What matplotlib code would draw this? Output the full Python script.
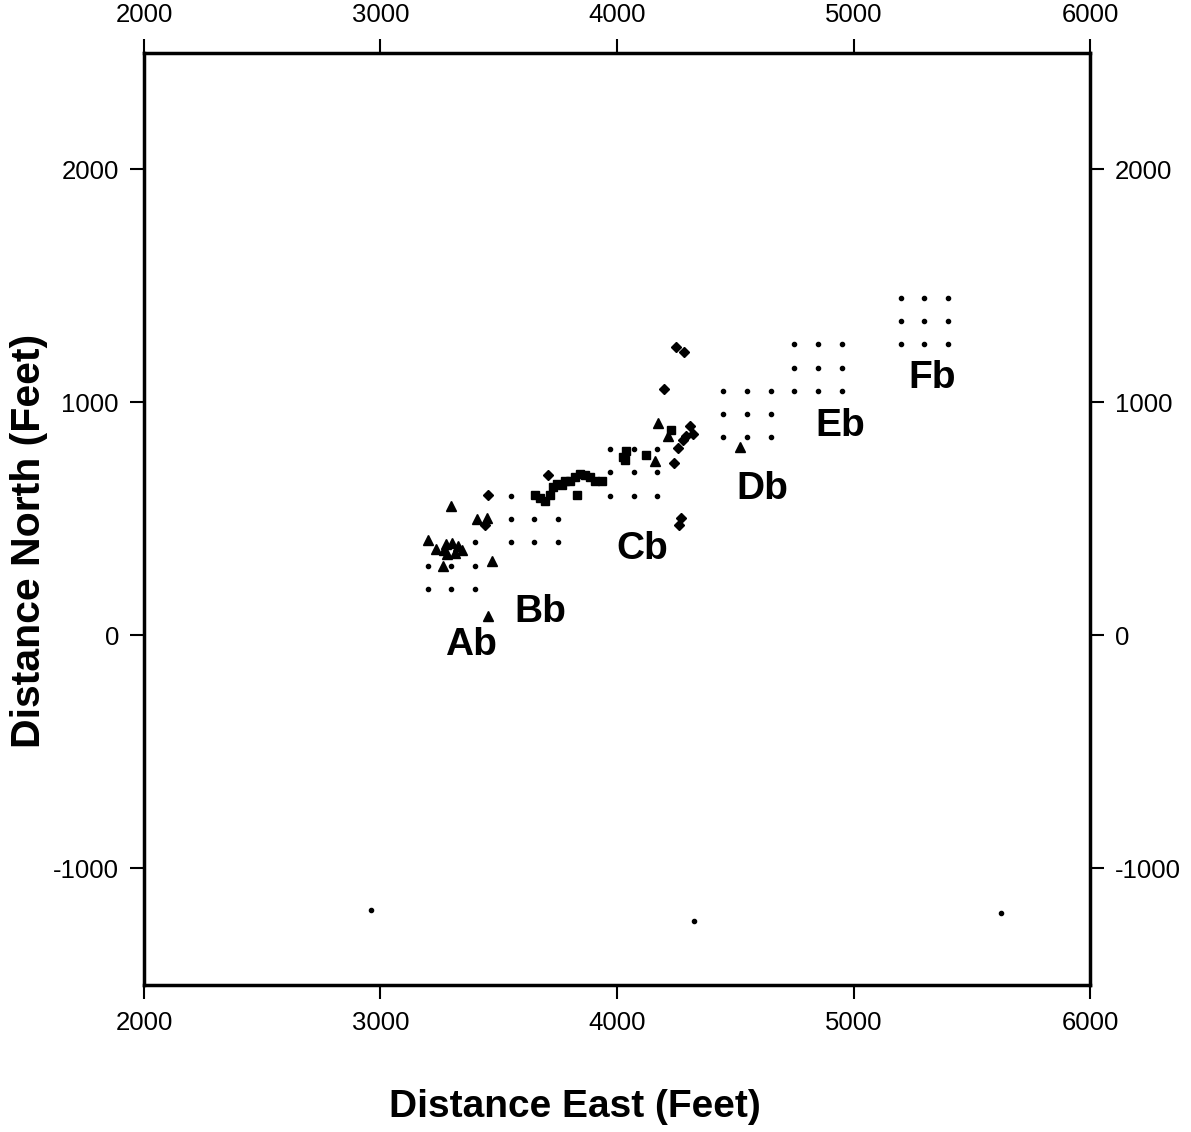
import matplotlib.pyplot as plt

plt.rcParams['font.family'] = ['Liberation Sans', 'DejaVu Sans']
plt.rcParams['axes.unicode_minus'] = False

# survey grid points (small dots)
grid_x = [3200, 3300, 3400, 3200, 3300, 3400, 3400,
          3550, 3650, 3750, 3550, 3650, 3750, 3550,
          3970, 4070, 4170, 3970, 4070, 4170, 3970, 4070, 4170,
          4450, 4550, 4650, 4450, 4550, 4650, 4450, 4550, 4650,
          4750, 4850, 4950, 4750, 4850, 4950, 4750, 4850, 4950,
          5200, 5300, 5400, 5200, 5300, 5400, 5200, 5300, 5400,
          2960, 4325, 5625]
grid_y = [200, 200, 200, 300, 300, 300, 400,
          400, 400, 400, 500, 500, 500, 600,
          600, 600, 600, 700, 700, 700, 800, 800, 800,
          850, 850, 850, 950, 950, 950, 1050, 1050, 1050,
          1050, 1050, 1050, 1150, 1150, 1150, 1250, 1250, 1250,
          1250, 1250, 1250, 1350, 1350, 1350, 1450, 1450, 1450,
          -1180, -1225, -1190]

# triangles
tri_x = [3298, 3408, 3450, 3201, 3235, 3277, 3302, 3328, 3345, 3315, 3281, 3268,
         3264, 3471, 3455, 4173, 4215, 4161, 4520]
tri_y = [554, 498, 506, 408, 369, 391, 395, 382, 365, 356, 348, 365,
         300, 318, 82, 910, 858, 747, 807]

# diamonds
dia_x = [3455, 3442, 3708, 4199, 4249, 4283, 4309, 4321, 4292, 4279, 4258,
         4241, 4271, 4262]
dia_y = [605, 472, 687, 1056, 1236, 1215, 897, 863, 854, 837, 803,
         742, 502, 472]

# squares
sq_x = [3653, 3674, 3696, 3717, 3729, 3746, 3767, 3780, 3801, 3822, 3843, 3865,
        3886, 3907, 3937, 3831, 4025, 4038, 4034, 4228, 4123]
sq_y = [601, 588, 579, 601, 639, 652, 644, 661, 665, 682, 695, 687,
        682, 665, 665, 601, 768, 790, 751, 880, 773]

# block labels
lab_text = ['Ab', 'Bb', 'Cb', 'Db', 'Eb', 'Fb']
lab_x = [3383, 3674, 4106, 4613, 4943, 5332]
lab_y = [-43, 99, 369, 627, 901, 1103]

fig = plt.figure(figsize=(11.91, 11.32), dpi=100)
ax = fig.add_axes([0.1209, 0.1299, 0.7943, 0.8233])

ax.plot(grid_x, grid_y, 'o', color='black', markersize=3, linestyle='none')
ax.plot(tri_x, tri_y, '^', color='black', markersize=6.5, linestyle='none')
ax.plot(dia_x, dia_y, 'D', color='black', markersize=5.5, linestyle='none')
ax.plot(sq_x, sq_y, 's', color='black', markersize=6, linestyle='none')

for t, x, y in zip(lab_text, lab_x, lab_y):
    ax.text(x, y, t, fontsize=28, fontweight='bold', ha='center', va='center')

ax.set_xlim(2000, 6000)
ax.set_ylim(-1500, 2500)
ax.set_xticks([2000, 3000, 4000, 5000, 6000])
ax.set_yticks([-1000, 0, 1000, 2000])

ax.tick_params(axis='both', which='both', direction='out', length=10, width=1.5,
               labelsize=18.5, top=True, right=True, labeltop=True, labelright=True)
ax.tick_params(axis='x', which='both', pad=9)
ax.tick_params(axis='y', which='both', pad=8)
for s in ax.spines.values():
    s.set_linewidth(2.5)

ax.set_xlabel('Distance East (Feet)', fontsize=28, fontweight='bold')
ax.set_ylabel('Distance North (Feet)', fontsize=29.5, fontweight='bold')
ax.xaxis.set_label_coords(0.455, -0.112)
ax.yaxis.set_label_coords(-0.101, 0.476)

plt.savefig('out.png', dpi=100)
